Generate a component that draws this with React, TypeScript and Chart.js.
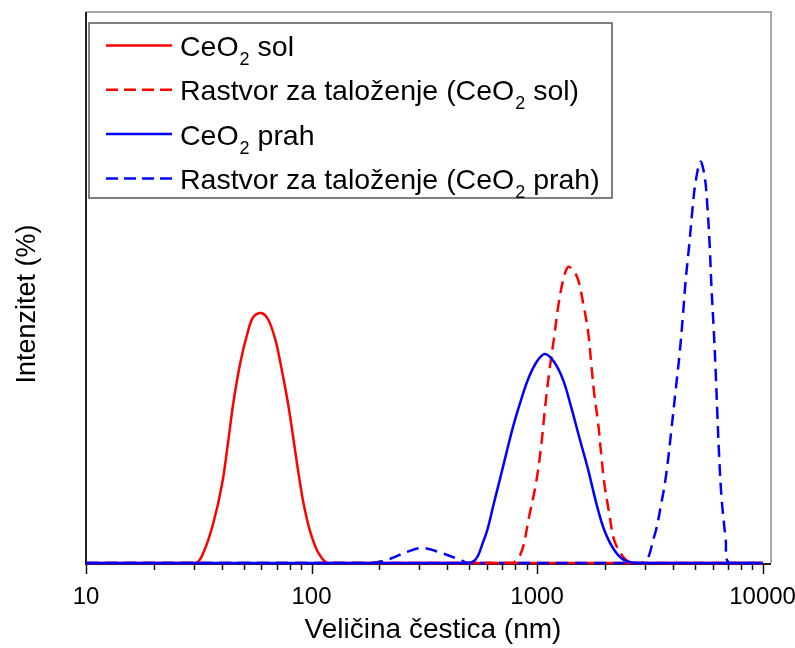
import React, { useEffect, useRef } from 'react';
import { Chart, registerables } from 'chart.js';

Chart.register(...registerables);

// ---- Data (particle size in nm, intensity in %) ----
const solSizes = [10, 30.5, 33.1, 36.7, 40.2, 42.8, 45.0, 48.3, 52.0, 55.2, 59.9, 64.4, 69.2, 72.8, 78.2, 82.4, 86.7, 92.1, 99.1, 107.4, 119.1, 10000];
const solIntensity = [0, 0, 0.54, 2.18, 4.36, 6.70, 8.71, 10.89, 12.52, 13.39, 13.61, 13.23, 12.14, 10.89, 8.87, 7.08, 5.23, 3.27, 1.63, 0.54, 0, 0];

const solSolutionSizes = [10, 766, 849, 921, 990, 1042, 1086, 1131, 1191, 1240, 1306, 1374, 1446, 1522, 1601, 1687, 1738, 1791, 1866, 1923, 1986, 2089, 2199, 2411, 2672, 10000];
const solSolutionIntensity = [0, 0, 0.54, 2.50, 4.36, 6.32, 8.49, 10.34, 12.30, 13.94, 15.41, 16.12, 15.95, 15.41, 14.16, 12.52, 10.89, 9.26, 7.62, 5.99, 4.36, 2.72, 1.25, 0.33, 0, 0];

const powderSizes = [10, 499, 581, 644, 713, 782, 849, 921, 1009, 1086, 1191, 1306, 1417, 1538, 1687, 1830, 1986, 2199, 2437, 2840, 10000];
const powderIntensity = [0, 0, 1.25, 3.27, 5.44, 7.40, 8.87, 10.13, 11.05, 11.38, 10.94, 9.96, 8.49, 6.86, 5.06, 3.27, 1.80, 0.71, 0.16, 0, 0];

const powderSolutionSizes = [10, 180, 220, 267, 310, 374, 459, 493, 2899, 3288, 3557, 3744, 3941, 4119, 4289, 4443, 4561, 4722, 4885, 5037, 5303, 5540, 5694, 5832, 5934, 6076, 6200, 6310, 6421, 6574, 6869, 7112, 10000];
const powderSolutionIntensity = [0, 0, 0.20, 0.62, 0.82, 0.56, 0.16, 0, 0, 1.34, 3.25, 4.88, 7.24, 9.42, 11.42, 13.60, 15.41, 17.22, 19.22, 20.67, 21.85, 21.03, 19.40, 17.22, 15.04, 12.69, 10.33, 7.97, 5.79, 3.61, 1.25, 0, 0];

const seriesLabels = ['CeO₂ sol', 'Rastvor za taloženje (CeO₂ sol)', 'CeO₂ prah', 'Rastvor za taloženje (CeO₂ prah)'];
const xTickLabels = ['10', '100', '1000', '10000'];
const xTitle = 'Veličina čestica (nm)';
const yTitle = 'Intenzitet (%)';

const FONT = '"Liberation Sans", Arial, Helvetica, sans-serif';
const RED = '#ff0000';
const BLUE = '#0000ff';
const DASH = [12, 7];

const pts = (xs: number[], ys: number[]) => xs.map((x, i) => ({ x, y: ys[i] }));

function drawSubText(ctx: CanvasRenderingContext2D, label: string, x: number, y: number) {
  const parts = label.split('₂');
  let cx = x;
  ctx.textBaseline = 'alphabetic';
  ctx.textAlign = 'left';
  parts.forEach((p, i) => {
    ctx.font = `28.5px ${FONT}`;
    ctx.fillText(p, cx, y);
    cx += ctx.measureText(p).width;
    if (i < parts.length - 1) {
      ctx.font = `18px ${FONT}`;
      ctx.fillText('2', cx + 1, y + 9);
      cx += ctx.measureText('2').width + 1;
    }
  });
}

const decorPlugin = {
  id: 'decor',
  beforeDatasetsDraw(chart: any) {
    const { ctx, chartArea: a, scales } = chart;
    const xs = scales.x;
    ctx.save();
    ctx.strokeStyle = '#a8a8a8';
    ctx.lineWidth = 2;
    ctx.beginPath();
    ctx.moveTo(a.left, a.top);
    ctx.lineTo(a.right, a.top);
    ctx.lineTo(a.right, a.bottom);
    ctx.stroke();
    ctx.strokeStyle = '#222';
    ctx.beginPath();
    ctx.moveTo(a.left, a.top);
    ctx.lineTo(a.left, a.bottom + 1);
    ctx.lineTo(a.right, a.bottom + 1);
    ctx.stroke();
    ctx.lineWidth = 1.5;
    ctx.strokeStyle = '#111';
    xs.ticks.forEach((t: any) => {
      const v = t.value;
      if (v < 10 - 1e-9 || v > 10000 + 1e-6) return;
      const e = Math.floor(Math.log10(v) + 1e-9);
      const m = v / Math.pow(10, e);
      if (Math.abs(m - Math.round(m)) > 1e-6) return;
      const major = Math.abs(m - 1) < 1e-6;
      const px = Math.round(xs.getPixelForValue(v)) + 0.5;
      ctx.beginPath();
      ctx.moveTo(px, a.bottom + 1);
      ctx.lineTo(px, a.bottom + 1 + (major ? 10 : 6));
      ctx.stroke();
    });
    ctx.restore();
  },
  afterDraw(chart: any) {
    const { ctx } = chart;
    ctx.save();
    ctx.fillStyle = '#000';
    ctx.font = `28px ${FONT}`;
    ctx.textAlign = 'center';
    ctx.textBaseline = 'middle';
    ctx.fillText(xTitle, 433, 630);
    ctx.save();
    ctx.translate(28, 304);
    ctx.rotate(-Math.PI / 2);
    ctx.font = `27px ${FONT}`;
    ctx.fillText(yTitle, 0, 0);
    ctx.restore();

    const bx = 89, by = 23, bw = 523, bh = 175;
    ctx.fillStyle = '#fff';
    ctx.fillRect(bx, by, bw, bh);
    ctx.strokeStyle = '#555';
    ctx.lineWidth = 1.5;
    ctx.strokeRect(bx, by, bw, bh);
    chart.data.datasets.forEach((ds: any, i: number) => {
      const cy = 45.5 + i * 44.3;
      ctx.strokeStyle = ds.borderColor;
      ctx.lineWidth = 2.5;
      ctx.setLineDash(ds.borderDash && ds.borderDash.length ? [12, 6] : []);
      ctx.beginPath();
      ctx.moveTo(106, cy);
      ctx.lineTo(172, cy);
      ctx.stroke();
      ctx.setLineDash([]);
      ctx.fillStyle = '#000';
      drawSubText(ctx, ds.label, 180, cy + 10.5);
    });
    ctx.restore();
  },
};

export default function App() {
  const ref = useRef<HTMLCanvasElement>(null);
  useEffect(() => {
    const canvas = ref.current;
    if (!canvas) return;
    const common = {
      pointRadius: 0,
      borderWidth: 2.5,
      tension: 0.35,
      fill: false,
      clip: false as any,
    };
    const chart = new Chart(canvas, {
      type: 'line',
      data: {
        datasets: [
          { ...common, label: seriesLabels[0], data: pts(solSizes, solIntensity), borderColor: RED, borderDash: [], order: 4 },
          { ...common, label: seriesLabels[1], data: pts(solSolutionSizes, solSolutionIntensity), borderColor: RED, borderDash: DASH, order: 2 },
          { ...common, label: seriesLabels[2], data: pts(powderSizes, powderIntensity), borderColor: BLUE, borderDash: [], order: 1 },
          { ...common, label: seriesLabels[3], data: pts(powderSolutionSizes, powderSolutionIntensity), borderColor: BLUE, borderDash: DASH, order: 3 },
        ],
      },
      options: {
        responsive: false,
        animation: false,
        events: [],
        layout: { padding: { left: 86, top: 12, right: 24, bottom: 0 } },
        plugins: { legend: { display: false }, tooltip: { enabled: false } },
        scales: {
          x: {
            type: 'logarithmic',
            min: 10,
            max: 10900,
            grid: { display: false, drawTicks: false },
            border: { display: false },
            afterFit: (s: any) => { s.height = 85; },
            ticks: {
              autoSkip: false,
              maxRotation: 0,
              padding: 20,
              color: '#000',
              font: { size: 24, family: FONT },
              callback: (v: any) => {
                const n = Number(v);
                const hit = xTickLabels.find((l) => Math.abs(Number(l) - n) < 1e-6 * Number(l));
                return hit ? hit : '';
              },
            },
          },
          y: {
            type: 'linear',
            min: 0,
            max: 30,
            display: false,
          },
        },
      },
      plugins: [decorPlugin],
    });
    return () => chart.destroy();
  }, []);
  return (
    <div style={{ position: 'absolute', left: 0, top: 0, width: 795, height: 648, background: '#fff' }}>
      <canvas ref={ref} width={795} height={648} style={{ display: 'block' }} />
    </div>
  );
}
